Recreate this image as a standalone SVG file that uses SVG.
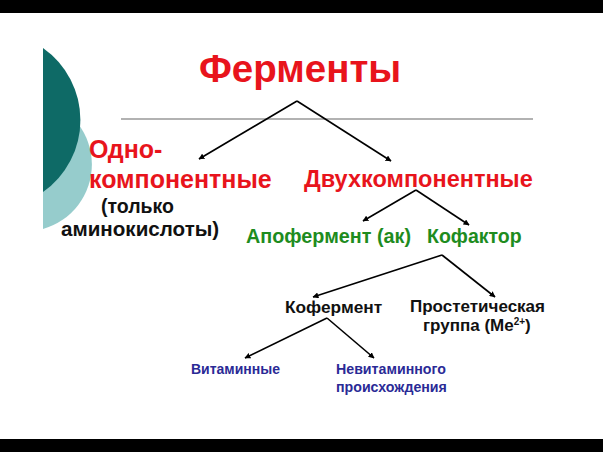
<svg xmlns="http://www.w3.org/2000/svg" width="603" height="452" viewBox="0 0 603 452">
<defs>
<style>
text{font-family:"Liberation Sans",Arial,sans-serif;font-weight:bold}
.red{fill:#e8141c}
.green{fill:#1e8c1e}
.blue{fill:#2a2a96}
.blk{fill:#111}
.ln{stroke:#000;stroke-width:1.6;fill:none;marker-end:url(#ah)}
</style>
<marker id="ah" viewBox="0 0 10 10" refX="9" refY="5" markerWidth="6" markerHeight="6" orient="auto" markerUnits="userSpaceOnUse">
<path d="M0,0 L10,5 L0,10 z" fill="#000"/>
</marker>
</defs>
<rect width="603" height="452" fill="#fff"/>
<rect x="0" y="0" width="603" height="13" fill="#000"/>
<rect x="0" y="439" width="603" height="13" fill="#000"/>
<g id="decor">
<path d="M43,100 A67,67 0 0 1 43,229 Z" fill="#96cccc"/>
<path d="M43,48 A88,88 0 0 1 43,192 Z" fill="#0e6a66"/>
</g>
<line x1="121" y1="119" x2="533" y2="119" stroke="#999" stroke-width="1.5"/>
<g id="connectors">
<line class="ln" x1="297" y1="101" x2="199" y2="159"/>
<line class="ln" x1="297" y1="101" x2="391" y2="161"/>
<line class="ln" x1="416" y1="190" x2="363" y2="221"/>
<line class="ln" x1="416" y1="190" x2="469" y2="225"/>
<line class="ln" x1="442" y1="255" x2="313" y2="297"/>
<line class="ln" x1="442" y1="255" x2="495" y2="297"/>
<line class="ln" x1="327" y1="318" x2="245" y2="358"/>
<line class="ln" x1="327" y1="318" x2="374" y2="358"/>
</g>
<g id="n-fermenty"><text class="red" x="199" y="82" font-size="38.5">Ферменты</text></g>
<g id="n-odno">
<text class="red" x="89" y="158" font-size="25">Одно-</text>
<text class="red" x="89" y="188" font-size="25">компонентные</text>
<text class="blk" x="101" y="213" font-size="19.5">(только</text>
<text class="blk" x="61" y="236" font-size="20.6">аминокислоты)</text>
</g>
<g id="n-dvuh"><text class="red" x="304" y="187" font-size="23.5">Двухкомпонентные</text></g>
<g id="n-apo"><text class="green" x="246" y="243" font-size="19.8">Апофермент (ак)</text></g>
<g id="n-kofaktor"><text class="green" x="427" y="243" font-size="19.5">Кофактор</text></g>
<g id="n-koferment"><text class="blk" x="285" y="313" font-size="17.3">Кофермент</text></g>
<g id="n-prost">
<text class="blk" x="410" y="312" font-size="17">Простетическая</text>
<text class="blk" x="423" y="331" font-size="17">группа (Ме<tspan font-size="10" dy="-6">2+</tspan><tspan dy="6">)</tspan></text>
</g>
<g id="n-vit"><text class="blue" x="191" y="374" font-size="14">Витаминные</text></g>
<g id="n-nevit">
<text class="blue" x="336" y="374" font-size="14.2">Невитаминного</text>
<text class="blue" x="336" y="392" font-size="14.2">происхождения</text>
</g>
</svg>
